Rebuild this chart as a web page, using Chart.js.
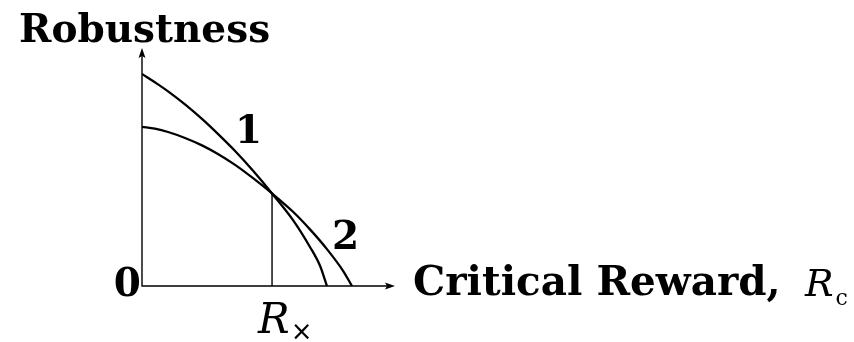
<!DOCTYPE html>
<html>
<head>
<meta charset="utf-8">
<script src="https://cdn.jsdelivr.net/npm/chart.js@4/dist/chart.umd.min.js"></script>
<style>
  html, body { margin: 0; padding: 0; background: #fff; }
  canvas { display: block; }
</style>
</head>
<body>
<canvas id="c" width="854" height="342"></canvas>
<script>
// Curve 1: critical reward (x) and robustness (y)
const rewardA = [0, 0.51, 1.03, 1.70, 2.37, 3.00, 3.68, 4.39, 5.14, 5.97, 6.64, 7.04, 7.31];
const robustA = [8.91, 8.56, 8.18, 7.63, 7.02, 6.39, 5.67, 4.84, 3.89, 2.77, 1.64, 0.84, 0];

// Curve 2: critical reward (x) and robustness (y)
const rewardB = [0, 0.51, 1.03, 1.70, 2.37, 3.00, 3.68, 4.39, 5.14, 5.97, 6.64, 7.31, 7.94, 8.30];
const robustB = [6.69, 6.61, 6.47, 6.22, 5.91, 5.55, 5.09, 4.53, 3.89, 3.12, 2.38, 1.55, 0.65, 0];

// Crossing reward R× where the two curves meet
const crossReward = 5.14;
const crossRobust = 3.89;

// Curve labels, placed in data units
const curveLabels = [
  { text: '1', x: 4.21, y: 6.0 },
  { text: '2', x: 8.05, y: 1.55 }
];

const axisTitleY = 'Robustness';
const axisTitleX = 'Critical Reward,';
const originLabel = '0';

const toPts = (xs, ys) => xs.map((x, i) => ({ x, y: ys[i] }));

const decor = {
  id: 'decor',
  afterDatasetsDraw(chart) {
    const { ctx, chartArea: a, scales } = chart;
    const sx = scales.x, sy = scales.y;
    ctx.save();
    ctx.strokeStyle = '#000';
    ctx.fillStyle = '#000';

    // axes with arrow heads
    ctx.lineWidth = 1.4;
    ctx.beginPath();
    ctx.moveTo(a.left, a.top + 8);
    ctx.lineTo(a.left, a.bottom);
    ctx.lineTo(a.right - 8, a.bottom);
    ctx.stroke();
    ctx.beginPath();
    ctx.moveTo(a.left, a.top);
    ctx.lineTo(a.left - 3.5, a.top + 10);
    ctx.lineTo(a.left, a.top + 8);
    ctx.lineTo(a.left + 3.5, a.top + 10);
    ctx.closePath();
    ctx.fill();
    ctx.beginPath();
    ctx.moveTo(a.right, a.bottom);
    ctx.lineTo(a.right - 10, a.bottom - 3.5);
    ctx.lineTo(a.right - 8, a.bottom);
    ctx.lineTo(a.right - 10, a.bottom + 3.5);
    ctx.closePath();
    ctx.fill();

    ctx.textBaseline = 'alphabetic';
    ctx.textAlign = 'left';

    // axis titles
    ctx.font = 'bold 39px "DejaVu Serif"';
    ctx.fillText(axisTitleY, 19, 42);
    ctx.font = 'bold 40.5px "DejaVu Serif"';
    ctx.fillText(axisTitleX, a.right + 18, a.bottom + 9);
    ctx.font = 'bold 39px "DejaVu Serif"';
    ctx.textAlign = 'right';
    ctx.fillText(originLabel, a.left - 1, a.bottom + 10);

    // R_c
    ctx.textAlign = 'left';
    ctx.font = 'italic 38px "DejaVu Serif"';
    ctx.fillText('R', 805, a.bottom + 10);
    const rw = ctx.measureText('R').width;
    ctx.font = '22px "DejaVu Serif"';
    ctx.fillText('c', 805 + rw + 2, a.bottom + 19);

    // R_× under the crossing line
    const cx = sx.getPixelForValue(crossReward);
    ctx.font = 'italic 42px "DejaVu Serif"';
    ctx.fillText('R', cx - 14, a.bottom + 47);
    const rw2 = ctx.measureText('R').width;
    ctx.font = '26px "DejaVu Sans"';
    ctx.fillText('\u00d7', cx - 14 + rw2 + 1, a.bottom + 54);

    // curve labels
    ctx.font = 'bold 39px "DejaVu Serif"';
    ctx.textAlign = 'center';
    curveLabels.forEach(l => {
      ctx.fillText(l.text, sx.getPixelForValue(l.x), sy.getPixelForValue(l.y));
    });
    ctx.restore();
  }
};

new Chart(document.getElementById('c'), {
  type: 'scatter',
  data: {
    datasets: [
      {
        data: toPts(rewardA, robustA),
        showLine: true, borderColor: '#000', borderWidth: 2.3,
        pointRadius: 0, cubicInterpolationMode: 'monotone'
      },
      {
        data: toPts(rewardB, robustB),
        showLine: true, borderColor: '#000', borderWidth: 2.3,
        pointRadius: 0, cubicInterpolationMode: 'monotone'
      },
      {
        data: [{ x: crossReward, y: 0 }, { x: crossReward, y: crossRobust }],
        showLine: true, borderColor: '#000', borderWidth: 1.4,
        pointRadius: 0
      }
    ]
  },
  options: {
    responsive: false,
    animation: false,
    devicePixelRatio: 1,
    layout: { padding: { left: 142, right: 459, top: 48, bottom: 56 } },
    plugins: { legend: { display: false }, tooltip: { enabled: false } },
    scales: {
      x: { type: 'linear', min: 0, max: 10, display: false },
      y: { type: 'linear', min: 0, max: 10, display: false }
    }
  },
  plugins: [decor]
});
</script>
</body>
</html>
